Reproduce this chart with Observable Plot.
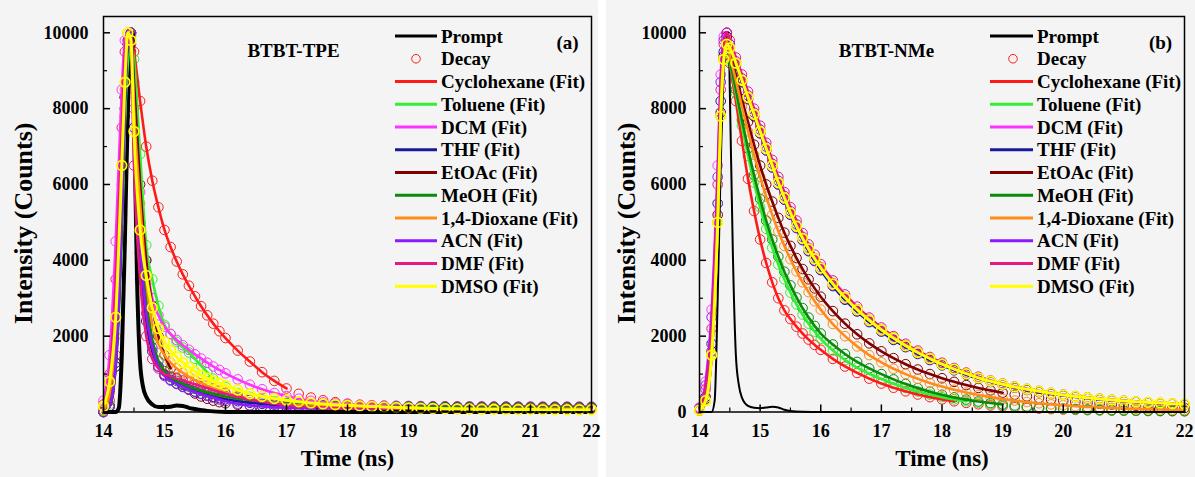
<!DOCTYPE html>
<html><head><meta charset="utf-8">
<script src="https://cdn.jsdelivr.net/npm/d3@7"></script>
<script src="https://cdn.jsdelivr.net/npm/@observablehq/plot@0.6"></script>
<style>
body{margin:0;background:#fff;width:1195px;height:477px;overflow:hidden;position:relative;}
.panel{position:absolute;top:0;}
</style></head><body>
<div id="a" class="panel" style="left:0px"></div>
<div id="b" class="panel" style="left:606px"></div>
<script>
// ---------- shared categories ----------
const time = [14.0,14.1,14.2,14.3,14.35,14.4,14.45,14.5,14.6,14.7,14.8,14.9,15.0,15.1,15.2,15.3,15.4,15.5,15.6,15.7,15.8,15.9,16.0,16.2,16.4,16.6,16.8,17.0,17.2,17.4,17.6,17.8,18.0,18.2,18.4,18.6,18.8,19.0,19.2,19.4,19.6,19.8,20.0,20.2,20.4,20.6,20.8,21.0,21.2,21.4,21.6,21.8,22.0];
const promptTime = [14.0,14.2,14.25,14.3,14.35,14.4,14.45,14.48,14.5,14.55,14.6,14.65,14.7,14.8,14.9,15.0,15.1,15.2,15.3,15.4,15.5,15.7,16.0,18.0,22.0];
const seriesNames = ["Cyclohexane","Toluene","DCM","THF","EtOAc","MeOH","1,4-Dioxane","ACN","DMF","DMSO"];
const seriesColors = ["#ff1a1a","#33ee33","#ff33ff","#1a1a99","#800000","#0a8a0a","#ff8c1a","#8c1aff","#e6197f","#ffff00"];
const xLabels = [14,15,16,17,18,19,20,21,22];
const xMinor = [14.5,15.5,16.5,17.5,18.5,19.5,20.5,21.5];
const yMajor = [0,2000,4000,6000,8000,10000];
const yMinor = [1000,3000,5000,7000,9000];
const yLabelsA = [2000,4000,6000,8000,10000];
const yLabelsB = [0,2000,4000,6000,8000,10000];
const xTitle = "Time (ns)";
const yTitle = "Intensity (Counts)";

// ---------- panel (a) BTBT-TPE ----------
const tpePrompt = [0,0,100,1500,4500,8000,9800,10000,8000,3500,1300,650,400,200,130,130,140,170,160,110,80,30,0,0,0];
const tpeCyclohexane = [50,300,1500,5000,7800,9400,9950,9500,8200,7000,6100,5400,4800,4350,3970,3630,3330,3050,2790,2550,2330,2130,1950,1620,1330,1050,820,620,480,380,310,260,220,190,172,162,155,150,147,144,142,140,138,137,136,135,134,133,132,131,130,130,130];
const tpeToluene = [30,200,1200,4500,7500,9200,9700,9300,6800,4400,3500,2800,2300,2050,1850,1700,1570,1400,1220,1050,880,760,660,500,400,330,280,240,210,190,175,165,155,150,145,140,138,135,133,131,130,129,128,127,126,125,125,124,124,123,123,122,122];
const tpeDCM = [300,1500,4500,8500,9800,10000,9700,8500,5800,4000,3000,2550,2250,2060,1900,1760,1640,1520,1410,1300,1200,1110,1020,860,720,600,500,420,350,295,255,225,205,190,180,172,166,162,158,155,153,151,150,149,148,147,146,145,145,144,144,143,143];
const tpeTHF = [0,150,1200,5000,8000,9700,10000,7500,4200,2400,1600,1200,980,850,750,670,600,540,485,440,400,365,335,285,245,215,195,180,168,160,154,150,146,143,141,139,137,136,135,134,133,132,131,131,130,130,129,129,128,128,128,127,127];
const tpeEtOAc = [0,150,1300,5200,8300,9800,10000,8700,6000,4000,2800,2000,1500,1150,900,720,590,490,410,350,300,260,230,190,165,150,140,133,128,125,122,120,118,117,116,115,114,113,112,112,111,111,110,110,110,109,109,109,108,108,108,108,108];
const tpeMeOH = [0,150,1300,5200,8300,9700,10000,8000,5000,3000,1900,1350,1080,920,820,740,670,610,560,515,475,440,410,360,320,285,255,230,210,193,180,170,162,156,151,147,144,141,139,137,135,134,133,132,131,130,130,129,129,128,128,128,127];
const tpeDioxane = [50,500,2000,6000,8500,10000,9900,8000,5500,3500,2300,1800,1500,1300,1150,1030,930,840,760,690,625,565,510,420,345,285,240,205,180,160,145,133,124,117,112,108,105,102,100,98,96,95,94,93,92,91,90,90,89,89,88,88,88];
const tpeACN = [0,150,1300,5200,8300,9800,10000,7500,4500,2600,1700,1200,950,830,740,660,590,530,475,425,380,330,285,220,175,145,125,112,104,99,95,92,90,88,87,86,85,84,84,83,83,82,82,82,81,81,81,80,80,80,80,80,80];
const tpeDMF = [200,1000,3500,7500,9500,10000,9500,6500,3500,2000,1400,1150,1000,940,880,830,780,730,680,630,580,530,480,400,330,270,220,180,150,130,115,105,98,93,90,88,86,85,84,83,83,82,82,82,81,81,81,81,80,80,80,80,80];
const tpeDMSO = [150,800,2500,6500,8700,10000,9800,7400,4800,3600,2750,2200,1850,1620,1450,1300,1180,1070,970,890,820,760,700,580,480,410,355,310,272,240,214,193,176,160,145,132,120,110,102,95,88,83,78,74,71,68,66,64,62,61,60,60,60];
const tpeFitEnd = [17.0,15.8,22,22,15.1,22,22,22,22,22];

// ---------- panel (b) BTBT-NMe ----------
const nmePrompt = [0,0,300,3000,6500,9000,9900,10000,8500,4200,1500,700,380,160,110,100,120,140,120,60,25,5,0,0,0];
const nmeCyclohexane = [40,300,1500,5000,7800,9300,9800,9200,8200,7150,6150,5300,4550,3930,3420,3000,2680,2450,2250,2070,1910,1770,1640,1400,1200,1030,880,750,640,545,462,392,333,282,240,204,173,147,125,106,90,77,66,57,49,43,38,34,30,27,25,23,21];
const nmeToluene = [40,300,1500,5000,7800,9300,9800,9250,8400,7550,6750,6050,5400,4830,4330,3890,3500,3150,2840,2570,2330,2120,1930,1620,1370,1170,1010,870,745,635,540,460,392,333,283,241,205,175,149,127,108,92,78,67,57,49,43,38,34,30,27,25,23];
const nmeDCM = [120,800,2700,6500,8900,9900,10000,9700,9200,8700,8250,7800,7350,6900,6450,6000,5600,5220,4870,4550,4260,4000,3760,3340,2980,2670,2390,2140,1920,1730,1550,1390,1250,1120,1000,895,800,720,650,590,535,485,440,400,365,335,308,284,262,243,226,210,196];
const nmeTHF = [60,400,1800,5500,8200,9500,9900,9600,9150,8700,8250,7800,7350,6900,6450,6000,5600,5200,4850,4530,4240,3980,3740,3320,2960,2650,2370,2120,1900,1710,1530,1370,1230,1100,985,880,790,710,640,580,525,478,435,396,362,332,305,281,260,241,224,208,194];
const nmeEtOAc = [50,350,1600,5200,7900,9400,9900,9500,8900,8250,7650,7050,6500,6000,5550,5120,4730,4380,4060,3770,3500,3260,3040,2660,2330,2050,1810,1600,1420,1260,1120,1000,890,795,710,635,570,510,458,412,370,333,300,270,243,219,198,178,161,145,131,118,107];
const nmeMeOH = [40,300,1500,5000,7800,9300,9800,9300,8500,7700,6950,6250,5620,5050,4550,4100,3700,3340,3020,2740,2490,2270,2070,1780,1530,1320,1150,1000,860,740,630,535,455,385,327,278,236,200,172,146,125,107,91,78,67,58,50,44,39,35,31,28,26];
const nmeDioxane = [40,300,1500,5000,7800,9300,9800,9400,8750,8050,7400,6780,6200,5680,5200,4770,4380,4030,3710,3420,3160,2920,2700,2320,2000,1730,1500,1310,1140,1000,875,765,670,585,512,448,392,343,300,263,230,202,177,155,136,120,106,94,84,75,67,60,54];
const nmeACN = [100,700,2500,6200,8700,9800,10000,9700,9250,8800,8350,7900,7450,7000,6550,6100,5700,5300,4950,4620,4330,4060,3820,3400,3030,2710,2430,2180,1960,1760,1580,1420,1270,1140,1020,910,815,735,665,600,545,495,450,410,375,343,315,290,268,248,230,214,200];
const nmeDMF = [80,600,2200,6000,8500,9700,10000,9800,9350,8900,8450,8000,7550,7100,6650,6200,5800,5400,5050,4720,4420,4150,3900,3470,3100,2780,2490,2230,2000,1800,1620,1450,1300,1160,1040,930,830,750,675,610,555,505,460,420,385,352,325,300,278,258,240,224,210];
const nmeDMSO = [50,300,1500,5000,7800,9300,9700,9600,9200,8750,8300,7850,7400,6950,6500,6050,5650,5250,4900,4580,4300,4040,3800,3380,3020,2700,2420,2170,1950,1750,1570,1410,1260,1130,1010,900,810,730,660,600,545,495,450,410,375,345,318,293,272,253,236,220,205];
const nmeFitEnd = [18.2,18.4,22,22,19.0,19.0,22,22,22,22];

const legendLabels = ["Prompt","Decay"].concat(seriesNames.map(n => n + " (Fit)"));
const FONT = "'Liberation Serif','Times New Roman',serif";

function makePanel(cfg) {
  const rows = [];
  seriesNames.forEach((name, k) => cfg.values[k].forEach((v, i) => rows.push({t: time[i], v, s: name, k})));
  const fits = rows.filter(d => d.t <= cfg.fitEnd[d.k] + 1e-9);
  const promptRows = promptTime.map((t, i) => ({t, v: cfg.prompt[i]}));
  const isY = d => d.s === "DMSO";
  const svgNode = Plot.plot({
    width: cfg.width, height: 477,
    marginLeft: cfg.marginLeft, marginRight: cfg.marginRight, marginTop: 16, marginBottom: 65.5,
    style: {fontFamily: FONT, fontSize: "18px", fontWeight: "bold", background: "#f4f4f4", color: "black", overflow: "visible"},
    x: {domain: [14, 22]},
    y: {domain: [0, 10430]},
    color: {domain: seriesNames, range: seriesColors},
    marks: [
      Plot.dot(rows.filter(d => !isY(d)), {x: "t", y: "v", stroke: "s", r: 4.8, strokeWidth: 1}),
      Plot.line(promptRows, {x: "t", y: "v", stroke: "black", strokeWidth: cfg.promptWidth, curve: "monotone-x"}),
      Plot.line(fits.filter(d => !isY(d)), {x: "t", y: "v", z: "s", stroke: "s", strokeWidth: 2.6, curve: "monotone-x"}),
      Plot.line(fits.filter(isY), {x: "t", y: "v", z: "s", stroke: "s", strokeWidth: 3, curve: "monotone-x"}),
      Plot.dot(rows.filter(isY), {x: "t", y: "v", stroke: "s", r: 4.8, strokeWidth: 1.8}),
      Plot.frame({stroke: "black", strokeWidth: 1.5}),
      Plot.axisY({ticks: cfg.yLabels, tickSize: 0, tickPadding: cfg.yPad, tickFormat: d => String(d), label: null, fontSize: 18, fontWeight: "bold"}),
      Plot.axisY({ticks: yMajor, tickSize: -7, tickFormat: () => "", label: null, strokeWidth: 1.5}),
      Plot.axisY({ticks: yMinor, tickSize: -4, tickFormat: () => "", label: null, strokeWidth: 1.2}),
      Plot.axisX({ticks: xLabels, tickSize: 0, tickPadding: 12, tickFormat: d => String(d), label: null, fontSize: 18, fontWeight: "bold"}),
      Plot.axisX({ticks: xLabels, tickSize: -7, tickFormat: () => "", label: null, strokeWidth: 1.5}),
      Plot.axisX({ticks: xMinor, tickSize: -4, tickFormat: () => "", label: null, strokeWidth: 1.2}),
      Plot.text([cfg.title], {text: d => d, frameAnchor: "top-left", textAnchor: "middle", dx: cfg.titleDx, dy: 27, fontSize: 19, fontWeight: "bold"}),
      Plot.text([cfg.tag], {text: d => d, frameAnchor: "top-right", textAnchor: "middle", dx: -24, dy: 19, fontSize: 19, fontWeight: "bold"}),
      Plot.text([xTitle], {text: d => d, frameAnchor: "bottom", textAnchor: "middle", dy: 53.5, fontSize: 23, fontWeight: "bold"}),
      Plot.text([yTitle], {text: d => d, frameAnchor: "left", textAnchor: "middle", dx: cfg.yTitleDx, dy: 9, rotate: -90, fontSize: 26, fontWeight: "bold"})
    ]
  });
  const svg = svgNode.tagName.toLowerCase() === "svg" ? svgNode : svgNode.querySelector("svg");
  // legend inside the frame
  const L = cfg.legend;
  const g = d3.select(svg).append("g").attr("font-family", FONT).attr("font-weight", "bold").attr("font-size", 19).attr("text-anchor", "start");
  legendLabels.forEach((label, i) => {
    const y = L.y0 + i * L.dy;
    if (i === 1) {
      g.append("circle").attr("cx", L.cx).attr("cy", y).attr("r", 4.3).attr("fill", "none").attr("stroke", "#ff1a1a").attr("stroke-width", 1);
    } else {
      const color = i === 0 ? "black" : seriesColors[i - 2];
      g.append("line").attr("x1", L.x1).attr("x2", L.x2).attr("y1", y).attr("y2", y).attr("stroke", color).attr("stroke-width", 3);
    }
    g.append("text").attr("x", L.tx).attr("y", y).attr("dy", "0.35em").attr("text-anchor", "start").attr("fill", "black").text(label);
  });
  document.getElementById(cfg.id).appendChild(svgNode);
}

makePanel({
  id: "a", width: 598, marginLeft: 103, marginRight: 7,
  values: [tpeCyclohexane, tpeToluene, tpeDCM, tpeTHF, tpeEtOAc, tpeMeOH, tpeDioxane, tpeACN, tpeDMF, tpeDMSO],
  prompt: tpePrompt, fitEnd: tpeFitEnd, promptWidth: 4,
  yLabels: yLabelsA, yPad: 15, title: "BTBT-TPE", tag: "(a)", titleDx: 190, yTitleDx: -80,
  legend: {x1: 395, x2: 437, cx: 416, tx: 441, y0: 36, dy: 22.75}
});
makePanel({
  id: "b", width: 589, marginLeft: 93, marginRight: 11,
  values: [nmeCyclohexane, nmeToluene, nmeDCM, nmeTHF, nmeEtOAc, nmeMeOH, nmeDioxane, nmeACN, nmeDMF, nmeDMSO],
  prompt: nmePrompt, fitEnd: nmeFitEnd, promptWidth: 2,
  yLabels: yLabelsB, yPad: 13, title: "BTBT-NMe", tag: "(b)", titleDx: 187, yTitleDx: -73,
  legend: {x1: 384, x2: 427, cx: 407, tx: 431, y0: 36, dy: 22.75}
});
</script>
</body></html>
